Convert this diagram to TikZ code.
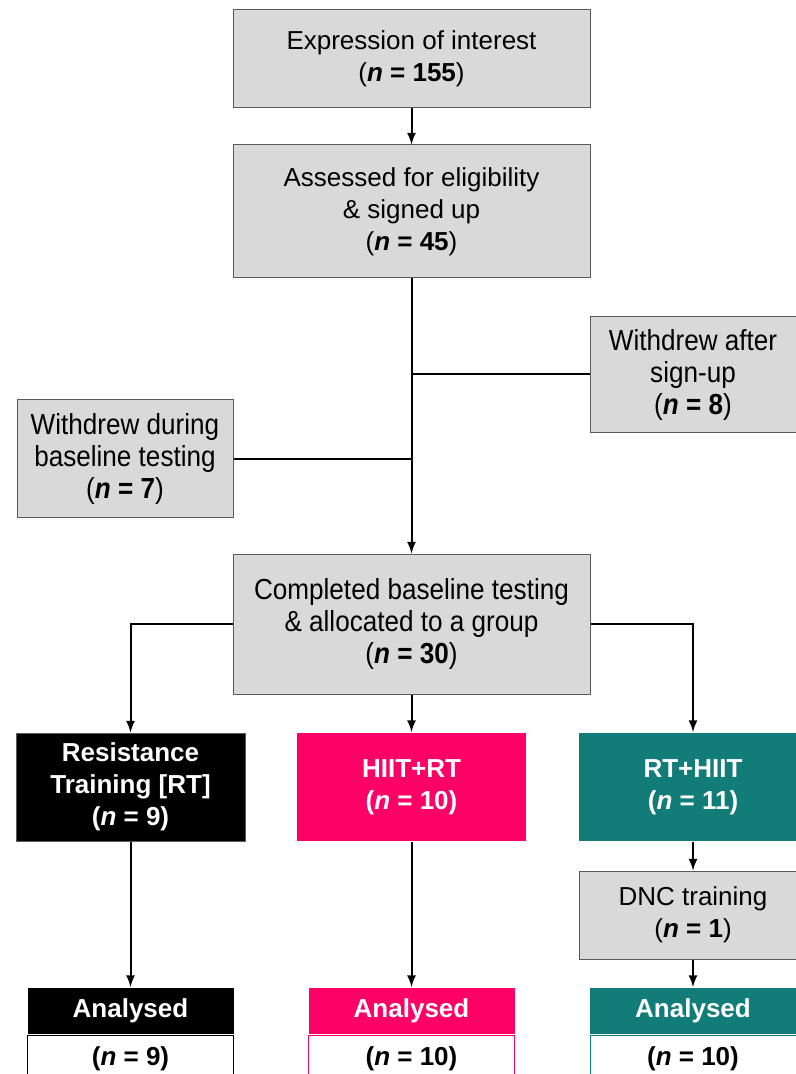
\documentclass[tikz,border=0pt]{standalone}
\usepackage{fontspec}
\setmainfont{Liberation Sans}
\newfontfamily\narrowfont[FakeStretch=0.9]{Liberation Sans}
\usetikzlibrary{positioning}
\tikzset{every picture/.style={line width=1pt}}
\definecolor{box-grey}{RGB}{217,217,217}
\definecolor{box-line}{RGB}{90,90,90}
\definecolor{grp-pink}{RGB}{255,0,102}
\definecolor{grp-teal}{RGB}{18,124,120}
\newcommand{\nval}[1]{(\textbf{\textit{n} = #1})}

\begin{document}
\begin{tikzpicture}
    [x=0.5pt, y=-0.5pt,
    box/.style = {rectangle, draw=box-line, line width=0.5pt, fill=box-grey, align=center,
            inner sep=0pt, font=\fontsize{13}{16}\selectfont},
    narrow/.style = {box, font=\narrowfont\fontsize{14.5}{16}\selectfont},
    grp/.style = {rectangle, align=center, inner sep=0pt, text=white,
            font=\bfseries\fontsize{13}{16}\selectfont,
            minimum width=114.5pt, minimum height=54pt},
    head/.style = {grp, minimum width=103pt, minimum height=23pt},
    count/.style = {rectangle, fill=white, line width=0.5pt, inner sep=0pt,
            font=\bfseries\fontsize{13}{16}\selectfont,
            minimum width=103pt, minimum height=23pt},
    -latex,
    ]

\path[use as bounding box, clip] (0,0) rectangle (796,1074);

% main column
\node[box, minimum width=178.5pt, minimum height=49pt] (expr) at (411.5, 59) {Expression of interest\\\nval{155}};
\node[box, minimum width=178.5pt, minimum height=66.5pt] (assess) at (411.5, 211.5) {Assessed for eligibility\\\& signed up\\\nval{45}};
\node[narrow, minimum width=103pt, minimum height=57.5pt] (wsign) at (693, 374.5) {Withdrew after\\sign-up\\\nval{8}};
\node[narrow, minimum width=108pt, minimum height=58.5pt] (wbase) at (125, 458.5) {Withdrew during\\baseline testing\\\nval{7}};
\node[narrow, minimum width=178.5pt, minimum height=70pt] (alloc) at (411.5, 624) {Completed baseline testing\\\& allocated to a group\\\nval{30}};

% groups
\node[grp, fill=black, draw=box-line, line width=0.5pt] (rt) at (130.5, 787) {Resistance\\Training [RT]\\(\textit{n} = 9)};
\node[grp, fill=grp-pink] (hiitrt) at (411.5, 787) {HIIT+RT\\(\textit{n} = 10)};
\node[grp, fill=grp-teal] (rthiit) at (693, 787) {RT+HIIT\\(\textit{n} = 11)};
\node[box, minimum width=114pt, minimum height=44pt] (dnc) at (693, 915) {DNC training\\\nval{1}};

% analysed
\node[head, fill=black] (ana-rt) at (130.5, 1011) {Analysed};
\node[count, draw=black, below=0pt of ana-rt] (cnt-rt) {(\textit{n} = 9)};
\node[head, fill=grp-pink] (ana-hiitrt) at (411.5, 1011) {Analysed};
\node[count, draw=grp-pink, below=0pt of ana-hiitrt] (cnt-hiitrt) {(\textit{n} = 10)};
\node[head, fill=grp-teal] (ana-rthiit) at (693, 1011) {Analysed};
\node[count, draw=grp-teal, below=0pt of ana-rthiit] (cnt-rthiit) {(\textit{n} = 10)};

\draw (expr) -- (assess);
\draw (assess) -- (alloc);
\draw[-] (wsign.west) -- (wsign.west -| assess.south);
\draw[-] (wbase.east) -- (wbase.east -| assess.south);
\draw (alloc.west) -| (rt.north);
\draw (alloc.east) -| (rthiit.north);
\draw (alloc) -- (hiitrt);
\draw (rt) -- (ana-rt);
\draw (hiitrt) -- (ana-hiitrt);
\draw (rthiit) -- (dnc);
\draw (dnc) -- (ana-rthiit);

\end{tikzpicture}
\end{document}
